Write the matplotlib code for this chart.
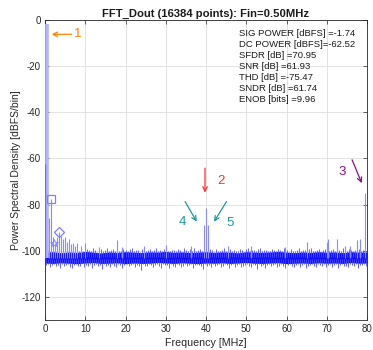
import numpy as np
import matplotlib
matplotlib.use("Agg")
import matplotlib.pyplot as plt

plt.rcParams["font.family"] = ["Liberation Sans", "DejaVu Sans"]
plt.rcParams["axes.unicode_minus"] = False

# ---------------- data ----------------
title = "FFT_Dout (16384 points): Fin=0.50MHz"
x_ticks = [0, 10, 20, 30, 40, 50, 60, 70, 80]
y_ticks = [-120, -100, -80, -60, -40, -20, 0]

# noise floor: dense core band (2 MHz steps)
core_freq = np.arange(0, 80.01, 2.0)
core_top = [-100.6, -100.4, -100.8, -100.5, -100.7, -100.3, -100.6, -100.9, -100.5, -100.7,
            -100.4, -100.6, -100.8, -100.5, -100.6, -100.3, -100.7, -100.5, -100.8, -100.6,
            -100.4, -100.7, -100.5, -100.6, -100.9, -100.4, -100.6, -100.7, -100.5, -100.3,
            -100.6, -100.8, -100.5, -100.7, -100.4, -100.6, -100.5, -100.8, -100.4, -100.6,
            -100.5]
core_bot = [-105.3, -105.5, -105.2, -105.4, -105.6, -105.3, -105.1, -105.5, -105.4, -105.2,
            -105.6, -105.3, -105.5, -105.4, -105.1, -105.3, -105.5, -105.2, -105.4, -105.6,
            -105.3, -105.4, -105.2, -105.5, -105.3, -105.1, -105.4, -105.5, -105.3, -105.2,
            -105.6, -105.4, -105.3, -105.5, -105.2, -105.4, -105.3, -105.5, -105.1, -105.4,
            -105.3]

# noise floor excursions (0.5 MHz steps)
fringe_freq = np.arange(0, 80.01, 0.5)
fringe_top = [-99.6, -100.2, -99.1, -100.4, -99.8, -99.3, -100.1, -99.7, -98.9, -100.3,
              -99.5, -100.0, -99.2, -99.9, -100.4, -99.4, -98.8, -100.1, -99.6, -99.9,
              -100.3, -99.3, -99.8, -100.2, -99.0, -99.7, -100.4, -99.5, -99.1, -100.0,
              -99.6, -98.7, -100.2, -99.8, -99.3, -100.1, -99.5, -99.9, -100.3, -99.2,
              -99.7, -100.0, -99.4, -98.9, -100.2, -99.6, -99.8, -100.4, -99.1, -99.9,
              -100.1, -99.5, -99.2, -100.3, -99.7, -99.0, -100.0, -99.6, -100.2, -99.4,
              -98.8, -99.9, -100.3, -99.5, -99.8, -100.1, -99.3, -99.7, -100.4, -99.0,
              -99.6, -100.2, -99.4, -99.9, -98.9, -100.0, -99.7, -99.2, -100.3, -99.5,
              -99.8, -100.1, -99.3, -99.6, -100.4, -99.1, -99.9, -100.2, -99.5, -98.8,
              -100.0, -99.6, -99.3, -100.3, -99.7, -99.9, -100.1, -99.2, -99.8, -100.4,
              -99.4, -99.0, -100.2, -99.6, -99.8, -100.0, -99.3, -98.7, -100.1, -99.7,
              -99.5, -100.3, -99.9, -99.2, -99.6, -100.2, -99.4, -99.8, -100.0, -98.9,
              -99.7, -100.4, -99.3, -99.9, -100.1, -99.5, -99.0, -100.3, -99.6, -99.8,
              -100.2, -99.4, -98.6, -99.9, -100.0, -99.7, -99.3, -100.4, -99.5, -99.1,
              -99.8, -100.1, -99.6, -99.2, -100.3, -99.0, -99.7, -99.9, -98.7, -99.5,
              -100.0, -99.3, -99.8, -100.2, -99.6, -98.9, -99.4, -100.1, -99.7, -99.2,
              -99.5]
fringe_bot = [-106.3, -105.8, -107.1, -106.0, -105.6, -106.8, -106.2, -107.4, -105.9, -106.5,
              -106.1, -105.7, -106.9, -107.6, -106.0, -105.8, -106.4, -106.7, -105.5, -107.0,
              -106.2, -106.6, -105.9, -107.3, -106.1, -105.7, -106.8, -106.3, -108.0, -105.8,
              -106.5, -106.0, -107.2, -105.6, -106.4, -106.9, -105.8, -106.2, -107.5, -106.1,
              -105.9, -106.7, -106.3, -105.7, -107.1, -106.0, -106.5, -108.2, -105.8, -106.4,
              -106.8, -105.6, -106.2, -107.0, -106.1, -105.9, -106.6, -107.3, -105.7, -106.3,
              -106.0, -107.6, -105.8, -106.4, -106.9, -105.6, -106.2, -107.1, -106.5, -105.9,
              -106.7, -106.1, -105.7, -107.4, -106.3, -105.8, -106.0, -106.8, -107.9, -105.6,
              -106.4, -106.0, -107.2, -105.9, -106.5, -106.2, -105.7, -107.0, -106.6, -105.8,
              -106.1, -107.5, -106.3, -105.6, -106.9, -106.0, -105.8, -107.2, -106.4, -106.1,
              -105.7, -106.6, -107.0, -105.9, -106.2, -108.1, -105.8, -106.5, -106.0, -107.3,
              -106.3, -105.6, -106.8, -106.1, -105.9, -107.1, -106.4, -105.7, -106.6, -107.4,
              -106.0, -105.8, -106.5, -107.0, -106.2, -105.6, -106.9, -106.3, -105.9, -107.6,
              -106.4, -106.1, -105.7, -106.8, -107.2, -105.8, -106.0, -106.6, -105.9, -107.0,
              -106.2, -105.7, -106.9, -106.3, -105.8, -107.3, -106.1, -105.6, -106.7, -106.4,
              -107.1, -105.9, -106.2, -106.6, -105.7, -107.5, -106.0, -106.3, -105.8, -106.8,
              -106.1]

# fundamental and DC bin
fin_mhz = 0.5
sig_power = -1.74
dc_power = -62.52

# spurs / harmonics standing above the floor [MHz], [dBFS]
spur_freq = [1.0, 1.5, 2.0, 2.5, 3.0, 3.5, 4.0, 4.5, 5.0, 5.5, 6.0, 6.5, 7.0, 7.5, 8.0,
             9.0, 9.9, 13.4, 18.0, 19.2, 24.6, 30.0, 36.2, 39.5, 40.0, 40.5, 45.4,
             51.3, 59.6, 65.0, 70.0, 70.2, 72.5, 74.5, 75.8, 77.4, 78.3, 79.5]
spur_level = [-86.0, -77.7, -94.0, -96.6, -93.9, -91.7, -93.5, -95.0, -94.0, -96.0,
              -95.0, -97.0, -96.5, -98.0, -96.8, -98.0, -96.8, -98.3, -95.3, -98.3,
              -98.0, -97.6, -98.0, -88.8, -81.3, -88.8, -98.0, -98.0, -98.5, -96.0,
              -96.0, -94.9, -94.9, -98.0, -98.0, -95.3, -94.7, -75.0]
spur_base = -103.0

# harmonic markers
sq_pt = (1.5, -77.7)
star_pt = (2.3, -96.6)
dia_pt = (3.55, -91.7)

stats = ["SIG POWER [dBFS] =-1.74",
         "DC POWER [dBFS]=-62.52",
         "SFDR [dB] =70.95",
         "SNR [dB] =61.93",
         "THD [dB] =-75.47",
         "SNDR [dB] =61.74",
         "ENOB [bits] =9.96"]

# ---------------- figure ----------------
fig = plt.figure(figsize=(3.73, 3.5), dpi=100)
ax = fig.add_axes([45 / 373, 30 / 350, 322 / 373, 300 / 350])

ax.set_xlim(0, 80)
ax.set_ylim(-130, 0)
ax.set_xticks(x_ticks)
ax.set_yticks(y_ticks)
ax.grid(True, color="#dedede", lw=0.6)
ax.set_axisbelow(True)

light = "#8a8aff"
# noise floor
ax.fill_between(core_freq, core_bot, core_top, color="#1010ff", lw=0, zorder=2)
ax.vlines(fringe_freq, -102.5, fringe_top, color="#4a4aff", lw=0.6, zorder=2)
ax.vlines(fringe_freq + 0.25, fringe_bot, -103.5, color="#4a4aff", lw=0.6, zorder=2)

# fundamental, DC and spurs
ax.vlines([fin_mhz], spur_base, sig_power, color="#b4b4ff", lw=2.6, zorder=3)
ax.vlines([0.0], spur_base, dc_power, color="#6a6aff", lw=1.0, zorder=3)
ax.vlines(spur_freq, spur_base, spur_level, color=light, lw=0.8, zorder=3)

mk = dict(color="#7f7fff", mfc="none", zorder=4)
ax.plot(*sq_pt, marker="s", ms=5.5, mew=0.9, **mk)
ax.plot(*dia_pt, marker="D", ms=5.5, mew=0.9, **mk)
ax.plot(*star_pt, marker="*", ms=6, mew=0.6, **mk)

# statistics
for i, line in enumerate(stats):
    ax.text(48.3, -5.8 - 4.8 * i, line, fontsize=6.8, color="#1a1a1a",
            ha="left", va="center", zorder=5)

# callouts
orange, red, purple, teal = "#ff8000", "#ff2d2d", "#8c0a8c", "#1a9999"
ap = dict(arrowstyle="->", lw=0.9, mutation_scale=8, shrinkA=0, shrinkB=0)
ax.annotate("", xy=(1.66, -6.2), xytext=(6.6, -6.2), arrowprops=dict(color=orange, **ap))
ax.text(7.3, -6.2, "1", color=orange, fontsize=9.5, ha="left", va="center")
ax.annotate("", xy=(39.75, -74.8), xytext=(39.75, -64.2), arrowprops=dict(color=red, **ap))
ax.text(42.7, -69.6, "2", color=red, fontsize=9.5, ha="left", va="center")
ax.annotate("", xy=(78.7, -70.7), xytext=(76.3, -60.6), arrowprops=dict(color=purple, **ap))
ax.text(73.0, -65.7, "3", color=purple, fontsize=9.5, ha="left", va="center")
ax.annotate("", xy=(37.7, -87.4), xytext=(34.8, -78.7), arrowprops=dict(color=teal, **ap))
ax.text(34.2, -87.4, "4", color=teal, fontsize=9.5, ha="center", va="center")
ax.annotate("", xy=(42.0, -87.4), xytext=(45.1, -78.7), arrowprops=dict(color=teal, **ap))
ax.text(45.0, -88.1, "5", color=teal, fontsize=9.5, ha="left", va="center")

# axes styling
for s in ax.spines.values():
    s.set_color("#262626")
    s.set_linewidth(0.6)
ax.tick_params(direction="in", length=3, width=0.5, colors="#262626",
               labelsize=7, top=True, right=True, pad=3)
ax.set_title(title, fontsize=8.1, fontweight="bold", color="#1a1a1a", pad=2.5)
ax.set_xlabel("Frequency [MHz]", fontsize=7.7, color="#262626", labelpad=3)
ax.set_ylabel("Power Spectral Density [dBFS/bin]", fontsize=7.5, color="#262626", labelpad=0.5)

fig.savefig("out.png", dpi=100, facecolor="white")
